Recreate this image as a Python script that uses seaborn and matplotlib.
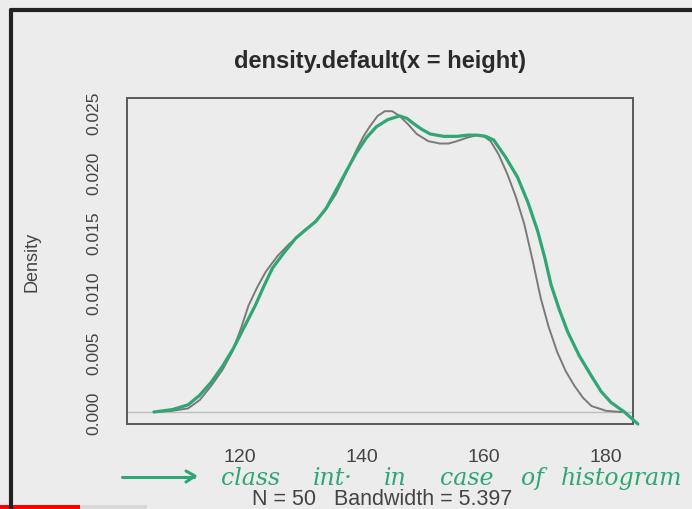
import numpy as np
import pandas as pd
import matplotlib.pyplot as plt
import seaborn as sns
from matplotlib.lines import Line2D
from matplotlib.patches import Rectangle

# Kurva densitas (abu-abu) hasil R
gray_x = [106.0, 109.0, 111.6, 113.5, 115.4, 117.2, 118.8, 120.2, 121.5, 122.9,
          124.3, 126.2, 128.1, 130.0, 132.0, 134.0, 135.8, 137.5, 139.1, 140.3,
          141.3, 142.6, 143.8, 145.0, 146.2, 147.6, 149.0, 150.9, 152.8, 154.2,
          155.6, 157.3, 158.9, 160.0, 161.1, 162.4, 163.8, 165.2, 166.6, 168.0,
          169.3, 170.6, 172.0, 173.4, 174.8, 176.2, 177.6, 180.0, 182.5]
gray_y = [0.0000, 0.0001, 0.0003, 0.0010, 0.0022, 0.0035, 0.0050, 0.0069, 0.0089, 0.0104,
          0.0117, 0.0130, 0.0140, 0.0148, 0.0157, 0.0168, 0.0182, 0.0200, 0.0218, 0.0230,
          0.0238, 0.0247, 0.0251, 0.0251, 0.0247, 0.0240, 0.0232, 0.0226, 0.0224, 0.0224,
          0.0226, 0.0229, 0.0231, 0.0230, 0.0226, 0.0215, 0.0199, 0.0180, 0.0157, 0.0126,
          0.0095, 0.0071, 0.0050, 0.0034, 0.0022, 0.0012, 0.0005, 0.0001, 0.0000]

# Kurva hijau (digambar tangan di atasnya)
green_x = [106.0, 109.0, 111.6, 113.5, 115.4, 117.2, 119.0, 120.8, 122.6, 124.0,
           125.4, 127.3, 129.2, 130.8, 132.5, 134.2, 135.8, 137.5, 139.1, 140.8,
           142.4, 144.3, 146.2, 147.4, 148.4, 149.8, 151.2, 153.4, 155.6, 157.3,
           158.9, 160.3, 161.6, 163.5, 165.5, 167.2, 168.8, 170.0, 171.0, 172.3,
           173.7, 175.6, 177.6, 179.2, 180.8, 183.0, 185.2]
green_y = [0.0000, 0.0002, 0.0006, 0.0014, 0.0025, 0.0038, 0.0053, 0.0071, 0.0089, 0.0105,
           0.0120, 0.0133, 0.0145, 0.0152, 0.0159, 0.0170, 0.0185, 0.0201, 0.0216, 0.0229,
           0.0238, 0.0244, 0.0247, 0.0245, 0.0241, 0.0236, 0.0232, 0.0230, 0.0230, 0.0231,
           0.0231, 0.0230, 0.0227, 0.0213, 0.0196, 0.0175, 0.0151, 0.0128, 0.0106, 0.0086,
           0.0067, 0.0047, 0.0030, 0.0017, 0.0008, 0.0000, -0.0010]

x_ticks = [120, 140, 160, 180]
y_ticks = [0.000, 0.005, 0.010, 0.015, 0.020, 0.025]
y_labels = ['0.000', '0.005', '0.010', '0.015', '0.020', '0.025']

# kata-kata catatan tangan
note_words = ['class', 'int·', 'in', 'case', 'of', 'histogram']

BG = '#ececec'
GREEN = '#2fa673'

sns.set_style('white')
plt.rcParams['font.family'] = ['Liberation Sans', 'DejaVu Sans']

fig = plt.figure(figsize=(6.92, 5.10), dpi=100, facecolor=BG)
ax = fig.add_axes([127 / 692, 85 / 510, 506 / 692, 326 / 510])
ax.set_facecolor(BG)

df_gray = pd.DataFrame({'x': gray_x, 'y': gray_y})
df_green = pd.DataFrame({'x': green_x, 'y': green_y})

# garis nol
ax.axhline(0, color='#bdbdbd', lw=1.0, zorder=1)
sns.lineplot(data=df_gray, x='x', y='y', ax=ax, color='#7a7a7a', lw=1.4,
             estimator=None, sort=False, zorder=2)
sns.lineplot(data=df_green, x='x', y='y', ax=ax, color=GREEN, lw=2.3,
             estimator=None, sort=False, zorder=3, clip_on=False)

ax.set_xlim(101.6, 184.4)
ax.set_ylim(-0.001, 0.0262)
ax.set_xticks(x_ticks)
ax.set_xticklabels([str(t) for t in x_ticks], fontsize=14, color='#444444')
ax.set_yticks(y_ticks)
ax.set_yticklabels(y_labels, fontsize=12.5, rotation=90, va='center', color='#444444')
ax.tick_params(axis='x', length=8.5, width=1.3, color='#555555', pad=9)
ax.tick_params(axis='y', length=9.5, width=1.3, color='#555555', pad=9)
ax.set_xlabel('')
ax.set_ylabel('Density', fontsize=13, color='#444444', labelpad=33)
for s in ax.spines.values():
    s.set_color('#5a5a5a')
    s.set_linewidth(1.4)

ax.set_title('density.default(x = height)', fontsize=17, fontweight='bold',
             color='#2a2a2a', pad=22)

fig.text(382 / 692, 1 - 500 / 510, 'N = 50   Bandwidth = 5.397', fontsize=15.5,
         color='#444444', ha='center', va='center')

# anotasi tulisan tangan
fig.add_artist(Line2D([122 / 692, 194 / 692], [1 - 478 / 510, 1 - 478 / 510],
                      color=GREEN, lw=2.2))
fig.add_artist(Line2D([186 / 692, 195 / 692, 186 / 692],
                      [1 - 472 / 510, 1 - 477 / 510, 1 - 483 / 510],
                      color=GREEN, lw=2.2))
word_centers = [251, 333, 395, 467, 532, 622]
for w, cx in zip(note_words, word_centers):
    fig.text(cx / 692, 1 - 485 / 510, w, fontsize=17, color=GREEN,
             ha='center', va='baseline', family='DejaVu Serif', style='italic')

# bingkai layar
fig.add_artist(Line2D([11 / 692, 11 / 692], [0, 1 - 11 / 510], color='#222222', lw=3))
fig.add_artist(Line2D([11 / 692, 1], [1 - 11 / 510, 1 - 11 / 510], color='#222222', lw=3))
fig.add_artist(Rectangle((0, 0), 80 / 692, 4 / 510, transform=fig.transFigure,
                         color='#ff0000', lw=0))
fig.add_artist(Rectangle((80 / 692, 0), 67 / 692, 4 / 510, transform=fig.transFigure,
                         color='#d8d8d8', lw=0))

fig.savefig('out.png', dpi=100, facecolor=BG)
